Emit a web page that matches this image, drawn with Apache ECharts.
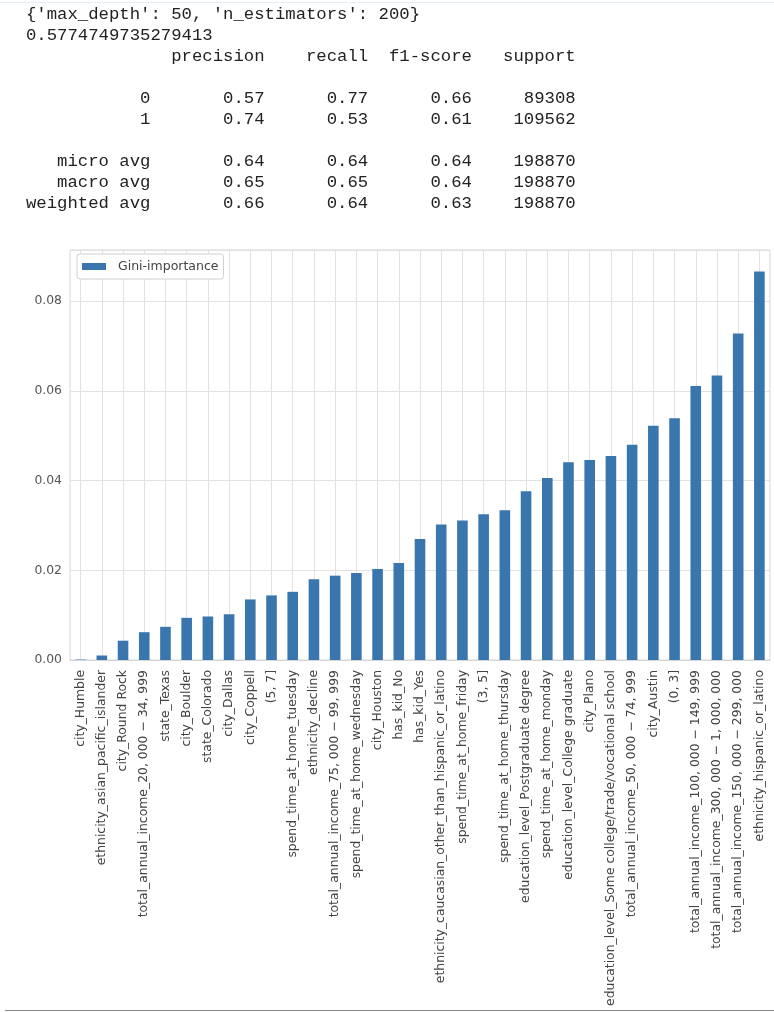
<!DOCTYPE html>
<html>
<head>
<meta charset="utf-8">
<script src="https://cdn.jsdelivr.net/npm/echarts@6/dist/echarts.min.js"></script>
<style>
  html, body { margin: 0; padding: 0; background: #fff; width: 774px; height: 1012px; overflow: hidden; }
  #chart { position: absolute; left: 0; top: 0; width: 774px; height: 1012px; }
  #report { position: absolute; left: 26px; top: 4px; margin: 0; font-family: "Liberation Mono", "Courier New", monospace; font-size: 17.3px; line-height: 21px; color: #222; white-space: pre; z-index: 2; }
  #topline { position: absolute; left: 0; top: 2px; width: 774px; height: 1px; background: #e3eef8; z-index: 2; }
  #bottomline { position: absolute; left: 5px; top: 1010px; width: 769px; height: 1px; background: #888; z-index: 2; }
</style>
</head>
<body>
<div id="topline"></div>
<pre id="report"></pre>
<div id="chart"></div>
<div id="bottomline"></div>
<script>
// Printed output above the chart
const reportLines = [
  "{'max_depth': 50, 'n_estimators': 200}",
  "0.5774749735279413",
  "              precision    recall  f1-score   support",
  "",
  "           0       0.57      0.77      0.66     89308",
  "           1       0.74      0.53      0.61    109562",
  "",
  "   micro avg       0.64      0.64      0.64    198870",
  "   macro avg       0.65      0.65      0.64    198870",
  "weighted avg       0.66      0.64      0.63    198870"
];

// Feature names (x categories)
const features = [
  "city_Humble",
  "ethnicity_asian_pacific_islander",
  "city_Round Rock",
  "total_annual_income_20, 000 \u2212 34, 999",
  "state_Texas",
  "city_Boulder",
  "state_Colorado",
  "city_Dallas",
  "city_Coppell",
  "(5, 7]",
  "spend_time_at_home_tuesday",
  "ethnicity_decline",
  "total_annual_income_75, 000 \u2212 99, 999",
  "spend_time_at_home_wednesday",
  "city_Houston",
  "has_kid_No",
  "has_kid_Yes",
  "ethnicity_caucasian_other_than_hispanic_or_latino",
  "spend_time_at_home_friday",
  "(3, 5]",
  "spend_time_at_home_thursday",
  "education_level_Postgraduate degree",
  "spend_time_at_home_monday",
  "education_level_College graduate",
  "city_Plano",
  "education_level_Some college/trade/vocational school",
  "total_annual_income_50, 000 \u2212 74, 999",
  "city_Austin",
  "(0, 3]",
  "total_annual_income_100, 000 \u2212 149, 999",
  "total_annual_income_300, 000 \u2212 1, 000, 000",
  "total_annual_income_150, 000 \u2212 299, 000",
  "ethnicity_hispanic_or_latino"
];

// Gini-importance values
const giniImportance = [
  0.0001, 0.0010, 0.0043, 0.0062, 0.0074, 0.0094, 0.0097, 0.0102, 0.0135, 0.0144,
  0.0152, 0.0180, 0.0188, 0.0194, 0.0203, 0.0216, 0.0270, 0.0302, 0.0311, 0.0325,
  0.0334, 0.0376, 0.0406, 0.0441, 0.0446, 0.0455, 0.0480, 0.0522, 0.0539, 0.0611,
  0.0634, 0.0728, 0.0866
];

const yTicks = [0, 0.02, 0.04, 0.06, 0.08];

document.getElementById('report').textContent = reportLines.join('\n');

const chart = echarts.init(document.getElementById('chart'), null, { renderer: 'canvas' });
const gridColor = '#e2e2e2';
chart.setOption({
  animation: false,
  backgroundColor: 'transparent',
  grid: {
    left: 70, right: 4, top: 250, bottom: 352,
    show: true, borderColor: '#d6d6d6', borderWidth: 1, backgroundColor: 'transparent'
  },
  legend: {
    left: 77, top: 254,
    data: ['Gini-importance'],
    icon: 'rect',
    itemWidth: 24, itemHeight: 7,
    padding: [6, 5, 6, 5],
    borderColor: '#d0d0d0', borderWidth: 1, borderRadius: 3,
    backgroundColor: '#fff',
    textStyle: { fontFamily: 'DejaVu Sans', fontSize: 12.5, color: '#444', padding: [0, 0, 0, 7] }
  },
  xAxis: {
    type: 'category',
    data: features,
    axisLine: { show: true, lineStyle: { color: '#d6d6d6' } },
    axisTick: { show: false },
    splitLine: { show: true, alignWithLabel: true, lineStyle: { color: gridColor, width: 1 } },
    axisLabel: {
      interval: 0, rotate: 90, margin: 10,
      fontFamily: 'DejaVu Sans', fontSize: 12.4, color: '#444'
    }
  },
  yAxis: {
    type: 'value',
    min: 0, max: 0.0914, interval: 0.02,
    axisLine: { show: false },
    axisTick: { show: false },
    splitLine: { show: true, lineStyle: { color: gridColor, width: 1 } },
    axisLabel: {
      showMaxLabel: false, margin: 8,
      fontFamily: 'DejaVu Sans', fontSize: 12.4, color: '#555',
      formatter: function (v) {
        for (const t of yTicks) { if (Math.abs(v - t) < 1e-9) return t.toFixed(2); }
        return '';
      }
    }
  },
  series: [{
    name: 'Gini-importance',
    type: 'bar',
    data: giniImportance,
    barWidth: '50%',
    itemStyle: { color: '#3a76ae' }
  }]
});
</script>
</body>
</html>
